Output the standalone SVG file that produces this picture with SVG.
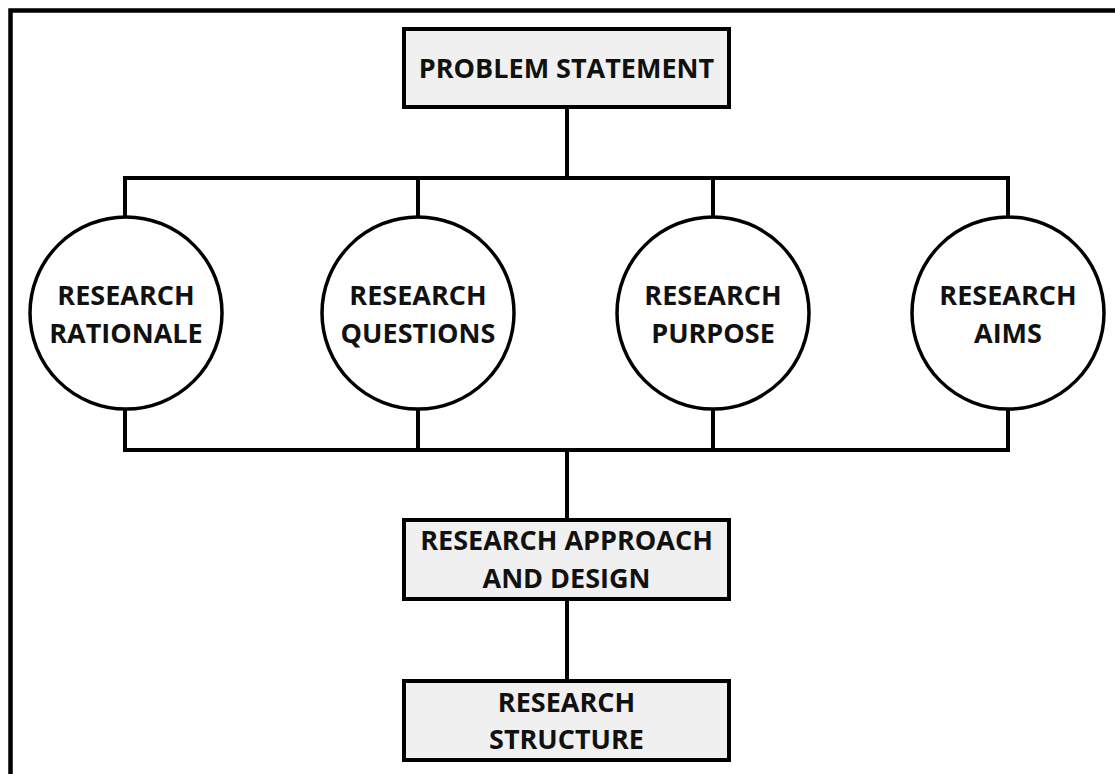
<svg xmlns="http://www.w3.org/2000/svg" width="1115" height="774" viewBox="0 0 1115 774">
  <style>
    .frame { fill: none; stroke: #000; stroke-width: 4.5; }
    .box { fill: #f0f0f0; stroke: #000; stroke-width: 4; }
    .circ { fill: #fff; stroke: #000; stroke-width: 3.5; }
    .wire { fill: none; stroke: #000; stroke-width: 4; }
    text { font-family: "Open Sans", "Liberation Sans", sans-serif; font-weight: bold; font-size: 27px; fill: #111; text-anchor: middle; }
  </style>
  <rect width="1115" height="774" fill="#fff"/>
  <path class="frame" d="M10.5 774 V10.5 H1115"/>

  <g id="connectors">
    <path class="wire" d="M567 107 V178"/>
    <path class="wire" d="M125 217 V178 H1008 V217"/>
    <path class="wire" d="M418 178 V217"/>
    <path class="wire" d="M713 178 V217"/>
    <path class="wire" d="M125 409 V450 H1008 V409"/>
    <path class="wire" d="M418 409 V450"/>
    <path class="wire" d="M713 409 V450"/>
    <path class="wire" d="M567 450 V520"/>
    <path class="wire" d="M567 599 V681"/>
  </g>

  <g id="problem-statement">
    <rect class="box" x="404" y="29" width="325" height="78"/>
    <text x="566.5" y="78">PROBLEM STATEMENT</text>
  </g>

  <g id="research-rationale">
    <circle class="circ" cx="126" cy="313" r="96"/>
    <text x="126" y="305">RESEARCH</text>
    <text x="126" y="343">RATIONALE</text>
  </g>

  <g id="research-questions">
    <circle class="circ" cx="418" cy="313" r="96"/>
    <text x="418" y="305">RESEARCH</text>
    <text x="418" y="343">QUESTIONS</text>
  </g>

  <g id="research-purpose">
    <circle class="circ" cx="713" cy="313" r="96"/>
    <text x="713" y="305">RESEARCH</text>
    <text x="713" y="343">PURPOSE</text>
  </g>

  <g id="research-aims">
    <circle class="circ" cx="1008" cy="313" r="96"/>
    <text x="1008" y="305">RESEARCH</text>
    <text x="1008" y="343">AIMS</text>
  </g>

  <g id="research-approach">
    <rect class="box" x="404" y="520" width="325" height="79"/>
    <text x="566.5" y="550">RESEARCH APPROACH</text>
    <text x="566.5" y="588">AND DESIGN</text>
  </g>

  <g id="research-structure">
    <rect class="box" x="404" y="681" width="325" height="79"/>
    <text x="566.5" y="712">RESEARCH</text>
    <text x="566.5" y="749">STRUCTURE</text>
  </g>
</svg>
